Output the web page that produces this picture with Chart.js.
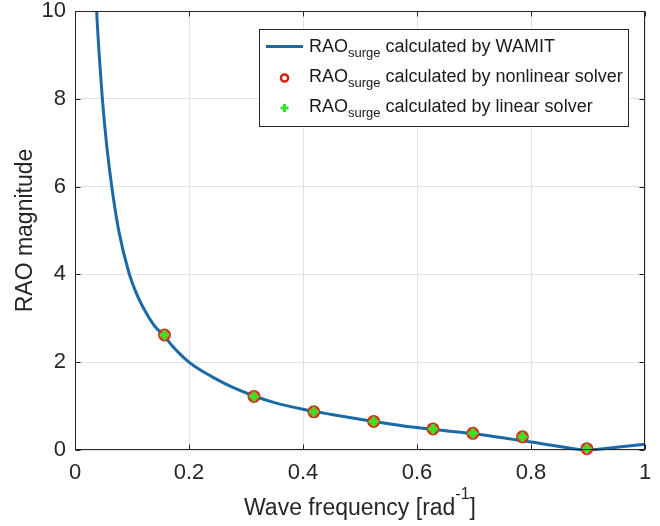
<!DOCTYPE html>
<html>
<head>
<meta charset="utf-8">
<script src="https://cdn.jsdelivr.net/npm/chart.js@4/dist/chart.umd.min.js"></script>
<style>
  html, body { margin: 0; padding: 0; background: #ffffff; }
  #wrap { width: 660px; height: 526px; position: relative; }
</style>
</head>
<body>
<div id="wrap"><canvas id="c" width="660" height="526"></canvas></div>
<script>
// ---- data ----
const waveFreq = [0.0365, 0.038, 0.043, 0.048, 0.0555, 0.065, 0.077, 0.095, 0.11, 0.128, 0.14, 0.157, 0.17, 0.184, 0.2, 0.22, 0.243, 0.278, 0.314, 0.35, 0.4, 0.45, 0.5, 0.55, 0.6, 0.65, 0.7, 0.75, 0.8, 0.85, 0.898, 0.95, 1.0];
const raoWamit = [10.5, 10, 8.9, 8, 6.95, 5.95, 4.98, 4.02, 3.5, 3.05, 2.82, 2.59, 2.38, 2.19, 2.0, 1.82, 1.65, 1.42, 1.23, 1.08, 0.93, 0.81, 0.70, 0.60, 0.51, 0.44, 0.37, 0.28, 0.18, 0.08, 0.0, 0.06, 0.13];
const solverFreq = [0.157, 0.314, 0.419, 0.524, 0.628, 0.698, 0.785, 0.898];
const raoNonlinear = [2.62, 1.22, 0.87, 0.65, 0.48, 0.38, 0.30, 0.03];
const raoLinear = [2.62, 1.22, 0.87, 0.65, 0.48, 0.38, 0.30, 0.03];
const xTickLabels = ['0', '0.2', '0.4', '0.6', '0.8', '1'];
const yTickLabels = ['0', '2', '4', '6', '8', '10'];
const legendMain = ['RAO', 'RAO', 'RAO'];
const legendSub = ['surge', 'surge', 'surge'];
const legendRest = [' calculated by WAMIT', ' calculated by nonlinear solver', ' calculated by linear solver'];
const xTitleMain = 'Wave frequency [rad';
const xTitleSup = '-1';
const xTitleEnd = ']';
const yTitle = 'RAO magnitude';

// ---- styles ----
const FONT = '"Liberation Sans", Arial, sans-serif';
const AX = '#262626';
const LINE_C = '#1b6aa8';
const RED = '#d42414';
const GREEN = '#35e52a';

const toPts = (xs, ys) => xs.map((v, i) => ({ x: v, y: ys[i] }));

const decorPlugin = {
  id: 'decor',
  afterDatasetsDraw(chart) {
    const { ctx, chartArea: a, scales } = chart;
    const xs = scales.x, ys = scales.y;
    ctx.save();
    ctx.strokeStyle = AX;
    ctx.lineWidth = 1;
    const L = Math.round(a.left) + 0.5, R = Math.round(a.right) - 0.5;
    const T = Math.round(a.top) + 0.5, B = Math.round(a.bottom) - 0.5;
    ctx.strokeRect(L, T, R - L, B - T);
    ctx.beginPath();
    xs.ticks.forEach(t => {
      const px = Math.round(xs.getPixelForValue(t.value)) + 0.5;
      ctx.moveTo(px, B); ctx.lineTo(px, B - 5);
      ctx.moveTo(px, T); ctx.lineTo(px, T + 5);
    });
    ys.ticks.forEach(t => {
      const py = Math.round(ys.getPixelForValue(t.value)) + 0.5;
      ctx.moveTo(L, py); ctx.lineTo(L + 5, py);
      ctx.moveTo(R, py); ctx.lineTo(R - 5, py);
    });
    ctx.stroke();
    ctx.restore();
  },
  afterDraw(chart) {
    const { ctx, chartArea: a } = chart;
    ctx.save();
    ctx.fillStyle = AX;
    // x title with superscript
    ctx.textBaseline = 'alphabetic';
    ctx.textAlign = 'left';
    ctx.font = '23px ' + FONT;
    const w1 = ctx.measureText(xTitleMain).width;
    const w3 = ctx.measureText(xTitleEnd).width;
    ctx.font = '16px ' + FONT;
    const w2 = ctx.measureText(xTitleSup).width;
    const cx = (a.left + a.right) / 2;
    let sx = cx - (w1 + w2 + w3) / 2;
    ctx.font = '23px ' + FONT;
    ctx.fillText(xTitleMain, sx, 515);
    ctx.font = '16px ' + FONT;
    ctx.fillText(xTitleSup, sx + w1, 499);
    ctx.font = '23px ' + FONT;
    ctx.fillText(xTitleEnd, sx + w1 + w2, 515);
    // y title
    ctx.save();
    ctx.translate(32, (a.top + a.bottom) / 2);
    ctx.rotate(-Math.PI / 2);
    ctx.textAlign = 'center';
    ctx.font = '23px ' + FONT;
    ctx.fillText(yTitle, 0, 0);
    ctx.restore();

    // legend
    const bx = 259.5, by = 29.5, bw = 369, bh = 97;
    ctx.fillStyle = '#ffffff';
    ctx.fillRect(bx, by, bw, bh);
    ctx.strokeStyle = AX;
    ctx.lineWidth = 1;
    ctx.strokeRect(bx, by, bw, bh);
    const baselines = [51.5, 81.5, 112];
    const mx = 284.5;
    // line sample
    ctx.strokeStyle = LINE_C;
    ctx.lineWidth = 3;
    ctx.beginPath();
    ctx.moveTo(266, 46.5); ctx.lineTo(303, 46.5);
    ctx.stroke();
    // circle sample
    ctx.strokeStyle = RED;
    ctx.lineWidth = 2.5;
    ctx.beginPath();
    ctx.arc(mx, 78, 3.6, 0, Math.PI * 2);
    ctx.stroke();
    // plus sample
    ctx.strokeStyle = GREEN;
    ctx.lineWidth = 3;
    ctx.beginPath();
    ctx.moveTo(mx - 4, 108); ctx.lineTo(mx + 4, 108);
    ctx.moveTo(mx, 104); ctx.lineTo(mx, 112);
    ctx.stroke();
    // texts
    ctx.fillStyle = '#1a1a1a';
    for (let i = 0; i < 3; i++) {
      let tx = 309;
      ctx.font = '18px ' + FONT;
      ctx.fillText(legendMain[i], tx, baselines[i]);
      tx += ctx.measureText(legendMain[i]).width;
      ctx.font = '13px ' + FONT;
      ctx.fillText(legendSub[i], tx, baselines[i] + 5);
      tx += ctx.measureText(legendSub[i]).width;
      ctx.font = '18px ' + FONT;
      ctx.fillText(legendRest[i], tx, baselines[i]);
    }
    ctx.restore();
  }
};

new Chart(document.getElementById('c'), {
  type: 'scatter',
  data: {
    datasets: [
      {
        label: 'RAO surge calculated by WAMIT',
        data: toPts(waveFreq, raoWamit),
        showLine: true,
        borderColor: LINE_C,
        borderWidth: 3,
        pointRadius: 0,
        cubicInterpolationMode: 'monotone',
        fill: false,
        clip: { left: 0, top: 0, right: 0, bottom: 3 },
        order: 3
      },
      {
        label: 'RAO surge calculated by nonlinear solver',
        data: toPts(solverFreq, raoNonlinear),
        showLine: false,
        pointStyle: 'circle',
        pointRadius: 5.5,
        pointBorderWidth: 2,
        pointBorderColor: '#c8321a',
        pointBackgroundColor: '#d27a2c',
        clip: false,
        order: 2
      },
      {
        label: 'RAO surge calculated by linear solver',
        data: toPts(solverFreq, raoLinear),
        showLine: false,
        pointStyle: 'cross',
        pointRadius: 5,
        pointBorderWidth: 3,
        pointBorderColor: GREEN,
        pointBackgroundColor: GREEN,
        clip: false,
        order: 1
      }
    ]
  },
  options: {
    responsive: false,
    devicePixelRatio: 1,
    animation: false,
    events: [],
    layout: { padding: { left: 0, top: 11, right: 15, bottom: 0 } },
    plugins: { legend: { display: false }, tooltip: { enabled: false }, title: { display: false } },
    scales: {
      x: {
        type: 'linear',
        min: 0, max: 1,
        grid: { color: '#e2e2e2', lineWidth: 1, drawTicks: false },
        border: { display: false },
        ticks: {
          stepSize: 0.2,
          padding: 10,
          color: AX,
          font: { family: FONT, size: 22 },
          maxRotation: 0,
          callback: (v) => {
            const i = Math.round(v / 0.2);
            return xTickLabels[i] !== undefined ? xTickLabels[i] : '';
          }
        },
        afterFit: (s) => { s.height = 76; s.paddingLeft = 0; s.paddingRight = 0; }
      },
      y: {
        type: 'linear',
        min: 0, max: 10,
        grid: { color: '#e2e2e2', lineWidth: 1, drawTicks: false },
        border: { display: false },
        ticks: {
          stepSize: 2,
          padding: 9,
          color: AX,
          font: { family: FONT, size: 22 },
          callback: (v) => {
            const i = Math.round(v / 2);
            return yTickLabels[i] !== undefined ? yTickLabels[i] : '';
          }
        },
        afterFit: (s) => { s.width = 75; s.paddingTop = 0; s.paddingBottom = 0; }
      }
    }
  },
  plugins: [decorPlugin]
});
</script>
</body>
</html>
